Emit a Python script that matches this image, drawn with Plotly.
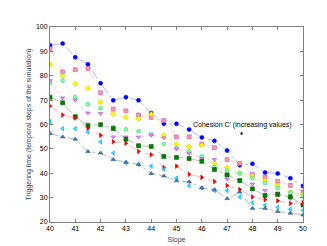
import plotly.graph_objects as go

slope = [40, 40.5, 41, 41.5, 42, 42.5, 43, 43.5, 44, 44.5, 45, 45.5, 46, 46.5, 47, 47.5, 48, 48.5, 49, 49.5, 50]

s_blue = [92.5, 93.2, 87.6, 84.7, 76.9, 69.9, 71.2, 69.9, 64.7, 60.3, 60.3, 57.9, 54.7, 53.3, 49.3, 43.3, 43.9, 40.3, 39.9, 38.0, 34.8]
s_pink = [91.0, 81.6, 82.5, 83.0, 73.0, 66.3, 65.6, 63.9, 62.9, 61.6, 54.9, 54.9, 52.0, 50.5, 45.6, 44.0, 39.6, 38.5, 36.7, 35.0, 32.3]
s_yellow = [84.7, 79.9, 76.7, 74.9, 69.2, 64.3, 63.0, 62.3, 64.3, 55.6, 51.9, 51.0, 51.6, 43.9, 42.3, 39.9, 38.9, 37.0, 35.0, 32.3, 31.3]
s_lgreen = [76.9, 78.0, 71.2, 68.3, 66.7, 58.9, 58.0, 57.2, 56.0, 52.0, 50.3, 48.9, 47.0, 42.5, 41.0, 40.0, 38.0, 36.0, 34.0, 32.0, 30.5]
s_purple = [78.0, 70.9, 70.0, 64.7, 64.5, 54.9, 54.9, 54.9, 55.6, 54.5, 50.0, 48.0, 46.0, 45.6, 37.6, 37.0, 35.6, 32.9, 31.9, 29.6, 26.9]
s_dgreen = [71.2, 68.9, 63.2, 59.6, 59.9, 58.3, 54.0, 51.3, 51.0, 46.9, 46.5, 46.0, 44.9, 41.5, 39.3, 37.0, 33.6, 30.9, 31.3, 30.3, 27.0]
s_red = [67.6, 63.9, 62.7, 58.5, 55.6, 52.9, 52.3, 48.9, 47.6, 42.3, 42.9, 39.6, 38.3, 36.6, 35.0, 33.3, 30.3, 29.2, 28.7, 27.6, 27.9]
s_cyan = [61.2, 58.3, 58.3, 56.9, 52.9, 48.3, 44.3, 43.6, 42.9, 41.6, 38.0, 34.9, 34.0, 32.9, 32.9, 30.3, 27.9, 26.9, 26.0, 25.2, 24.9]
s_steel = [56.3, 54.9, 54.0, 48.9, 48.3, 45.6, 44.5, 43.6, 39.9, 38.9, 36.9, 36.5, 34.0, 33.2, 29.6, 32.3, 25.6, 25.6, 24.3, 23.6, 22.9]

x_ticks = [40, 41, 42, 43, 44, 45, 46, 47, 48, 49, 50]
y_ticks = [20, 30, 40, 50, 60, 70, 80, 90, 100]

series = [
    (s_blue, "circle", "#0000ff", "#0000ff", "#9090ff", "dashdot"),
    (s_pink, "square", "#ff9999", "#b060d0", "#ffc0c0", "dash"),
    (s_yellow, "diamond", "#ffff00", "#c0c000", "#ffff80", "solid"),
    (s_lgreen, "circle", "#90ff90", "#40c0c0", "#b0ffb0", "dot"),
    (s_purple, "triangle-down", "#ff80ff", "#9060c0", "#ffb0d8", "dot"),
    (s_dgreen, "square", "#008000", "#006000", "#80b080", "dashdot"),
    (s_red, "triangle-right", "#ff0000", "#c00000", "#ff9090", "dash"),
    (s_cyan, "triangle-left", "#00ffff", "#4080ff", "#a0ffff", "dot"),
    (s_steel, "triangle-up", "#4080c0", "#305080", "#80a0a0", "dashdot"),
]

fig = go.Figure()
for vals, sym, fc, ec, lc, dash in series:
    fig.add_trace(go.Scatter(
        x=slope, y=vals, mode="lines+markers",
        line=dict(color=lc, width=0.7, dash=dash),
        marker=dict(symbol=sym, size=4, color=fc, line=dict(color=ec, width=0.6)),
        showlegend=False,
    ))

axcommon = dict(showline=True, linecolor="#808080", linewidth=1, mirror="ticks",
                ticks="inside", ticklen=3, tickcolor="#808080", showgrid=False,
                zeroline=False, tickfont=dict(size=7, color="#000000", family="Liberation Sans"))

fig.update_xaxes(range=[40, 50], tickvals=x_ticks,
                 title=dict(text="Slope", font=dict(size=7, family="Liberation Sans"), standoff=5),
                 **axcommon)
fig.update_yaxes(range=[20, 100], tickvals=y_ticks,
                 title=dict(text="Triggering time (temporal steps of the simulation)",
                            font=dict(size=7, family="Liberation Sans"), standoff=3),
                 **axcommon)

fig.add_annotation(x=47.6, y=59.6, xref="x", yref="y", text="Cohesion C' (increasing values)",
                   showarrow=False, font=dict(size=7, family="Liberation Sans", color="#000000"))
fig.add_annotation(x=47.6, y=56.8, xref="x", yref="y", text="▲",
                   showarrow=False, font=dict(size=4, family="DejaVu Sans", color="#000000"))

fig.update_layout(width=327, height=246, margin=dict(l=42, r=32, t=19, b=27),
                  paper_bgcolor="white", plot_bgcolor="white",
                  font=dict(family="Liberation Sans", size=7))

fig.write_html("out.html")
